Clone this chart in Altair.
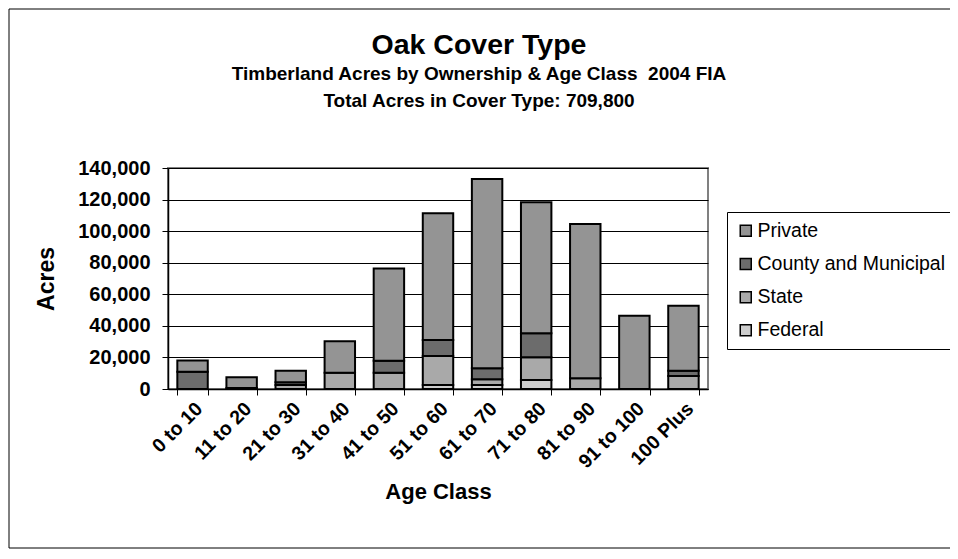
import altair as alt
import pandas as pd

age_classes = ["0 to 10", "11 to 20", "21 to 30", "31 to 40", "41 to 50", "51 to 60",
               "61 to 70", "71 to 80", "81 to 90", "91 to 100", "100 Plus"]
owners = ["Private", "County and Municipal", "State", "Federal"]
private = [7000, 6800, 7400, 20000, 58500, 80300, 120000, 83000, 97700, 46400, 41200]
county = [11000, 600, 1700, 0, 7600, 10100, 7000, 15200, 0, 0, 3400]
state = [0, 0, 2500, 10300, 10300, 18400, 3600, 14400, 6800, 0, 8200]
federal = [0, 0, 0, 0, 0, 2500, 2500, 5700, 0, 0, 0]
owner_colors = ["#949494", "#6c6c6c", "#a9a9a9", "#cdcdcd"]
y_ticks = [0, 20000, 40000, 60000, 80000, 100000, 120000, 140000]

series = {"Federal": federal, "State": state, "County and Municipal": county, "Private": private}
stack_rank = {"Federal": 0, "State": 1, "County and Municipal": 2, "Private": 3}
rows = []
for owner, vals in series.items():
    for age, v in zip(age_classes, vals):
        if v > 0:
            rows.append({"age": age, "owner": owner, "acres": v, "rank": stack_rank[owner]})
df = pd.DataFrame(rows)

FONT = "Arial, Liberation Sans, sans-serif"

# outer chart frame (left, top and bottom edges; the right edge lies off the page)
frame_data = alt.Data(values=[{"f": 1}])
frame_top = alt.Chart(frame_data).mark_rule(color="black", strokeWidth=1).encode(
    x=alt.value(-159), x2=alt.value(2000), y=alt.value(-159))
frame_bottom = alt.Chart(frame_data).mark_rule(color="black", strokeWidth=1).encode(
    x=alt.value(-159), x2=alt.value(2000), y=alt.value(380))
frame_left = alt.Chart(frame_data).mark_rule(color="black", strokeWidth=1).encode(
    x=alt.value(-159), y=alt.value(-159), y2=alt.value(380))

bars = alt.Chart(df).mark_bar(stroke="black", strokeWidth=2).encode(
    x=alt.X("age:N", sort=age_classes,
            scale=alt.Scale(paddingInner=0.38, paddingOuter=0.19),
            axis=alt.Axis(title="Age Class", labelAngle=-45, labelFont=FONT,
                          labelFontWeight="bold", labelFontSize=19.5, labelColor="black",
                          tickBand="extent", tickSize=6, tickColor="black",
                          domainColor="black", domainWidth=1.5, grid=False,
                          titleFont=FONT, titleFontSize=22, titleFontWeight="bold",
                          titleColor="black", titlePadding=10, labelPadding=4)),
    y=alt.Y("acres:Q", stack="zero",
            scale=alt.Scale(domain=[0, 140000], nice=False),
            axis=alt.Axis(title="Acres", values=y_ticks, format=",d", labelFont=FONT,
                          labelFontWeight="bold", labelFontSize=20, labelColor="black",
                          tickSize=6, tickColor="black", domainColor="black",
                          domainWidth=1.5, gridColor="black", gridWidth=1,
                          titleFont=FONT, titleFontSize=23, titleFontWeight="bold",
                          titleColor="black", titlePadding=19, labelPadding=12)),
    color=alt.Color("owner:N", scale=alt.Scale(domain=owners, range=owner_colors),
                    legend=alt.Legend(title=None, orient="none", legendX=559, legendY=44,
                                      strokeColor="black", fillColor="white", padding=9,
                                      labelFont=FONT, labelFontSize=19.5, labelColor="black",
                                      labelLimit=400,
                                      symbolType="square", symbolSize=121,
                                      symbolStrokeColor="black", symbolStrokeWidth=1.5,
                                      rowPadding=12.2, labelOffset=2)),
    order=alt.Order("rank:Q"),
)

chart = alt.layer(frame_top, frame_bottom, frame_left, bars).properties(
    width=540, height=221,
    autosize=alt.AutoSizeParams(type="none"),
    padding={"left": 160, "top": 160, "right": 242, "bottom": 160},
    title=alt.Title(
        text="Oak Cover Type",
        subtitle=["Timberland Acres by Ownership & Age Class \u00a02004 FIA",
                  "Total Acres in Cover Type: 709,800"],
        font=FONT, fontSize=28.5, fontWeight="bold", color="black",
        subtitleFont=FONT, subtitleFontSize=19, subtitleFontWeight="bold",
        subtitleColor="black", subtitleLineHeight=27, subtitlePadding=5,
        anchor="middle", frame="group", dx=41, offset=0, dy=102,
    ),
).configure_view(stroke="#808080", strokeWidth=2)

chart.save("out.html", embed_options={"renderer": "svg", "actions": False})
